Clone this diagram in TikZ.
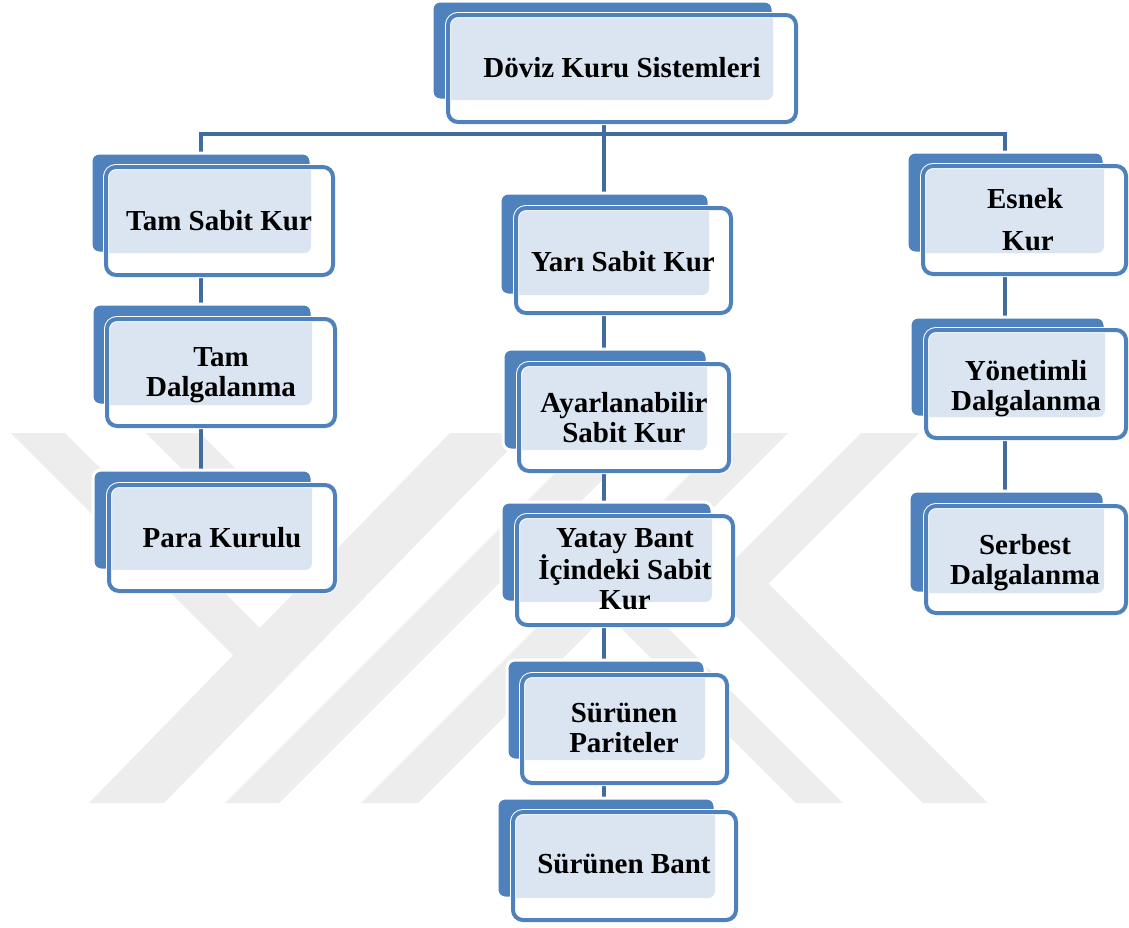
\documentclass[tikz,border=0pt]{standalone}
\usepackage{fontspec}
\setmainfont{Liberation Serif}
\definecolor{boxblue}{RGB}{79,129,189}
\definecolor{connblue}{RGB}{66,108,160}
\definecolor{patcol}{RGB}{219,229,241}
\definecolor{wmgray}{RGB}{237,237,237}
\pgfdeclarelayer{bg}
\pgfsetlayers{bg,main}
\tikzset{
  backbox/.style={rectangle, rounded corners=8pt, fill=boxblue, draw=white, line width=3pt, outer sep=0pt, inner sep=0pt},
  frontbox/.style={rectangle, rounded corners=10pt, fill=white, draw=white, double=boxblue, double distance=4pt, line width=1pt, outer sep=0pt, inner sep=0pt},
  lbl/.style={font=\bfseries\fontsize{29}{30}\selectfont, inner sep=0pt, anchor=base, text=black},
  conn/.style={draw=connblue, line width=4pt},
  wm/.style={fill=wmgray}
}
\newcommand\DBox[9]{%
  \node[backbox, minimum width={(#4-#2)*1pt}, minimum height={(#5-#3)*1pt}] (b#1) at ({(#2+#4)/2},{(#3+#5)/2}) {};
  \node[frontbox, minimum width={(#8-#6)*1pt}, minimum height={(#9-#7)*1pt},
    path picture={\fill[patcol, rounded corners=7pt] (b#1.north west) rectangle (b#1.south east);}] (f#1) at ({(#6+#8)/2},{(#7+#9)/2}) {};
}
\newcommand\ML[1]{\parbox[t]{300pt}{\centering #1}}
\begin{document}
\begin{tikzpicture}[x=1pt,y=-1pt]
\useasboundingbox (0,0) rectangle (1129,927);
% boxes
\DBox{Top}{432}{1}{773}{100}{448}{15}{796}{122}
\DBox{TSK}{91}{153}{311}{253}{106}{167}{333}{275}
\DBox{TD}{92}{304}{312}{405}{107}{319}{335}{426}
\DBox{PK}{93}{470}{312}{570}{109}{485}{335}{591}
\DBox{Yari}{500}{193}{709}{295}{516}{208}{731}{313}
\DBox{Ayar}{503}{349}{707}{450}{519}{364}{729}{471}
\DBox{Yatay}{501}{502}{712}{602}{517}{516}{733}{625}
\DBox{SP}{507}{660}{705}{760}{522}{675}{727}{783}
\DBox{SB}{497}{798}{715}{898}{513}{812}{736}{920}
\DBox{Esnek}{907}{152}{1104}{253}{923}{166}{1126}{274}
\DBox{Yon}{910}{317}{1105}{417}{926}{330}{1126}{438}
\DBox{Serb}{909}{491}{1104}{593}{926}{506}{1126}{613}
% texts
\node[lbl] (tTop) at (622,77) {Döviz Kuru Sistemleri};
\node[lbl] (tTSK) at (219,230) {Tam Sabit Kur};
\node[lbl] (tTD) at (221,366) {\ML{Tam\\Dalgalanma}};
\node[lbl] (tPK) at (222,547) {Para Kurulu};
\node[lbl] (tYari) at (623,271) {Yarı Sabit Kur};
\node[lbl] (tAyar) at (624,412) {\ML{Ayarlanabilir\\Sabit Kur}};
\node[lbl] (tYatay) at (625,547) {\ML{Yatay Bant\\İçindeki Sabit\\Kur}};
\node[lbl] (tSP) at (624,722) {\ML{Sürünen\\Pariteler}};
\node[lbl] (tSB) at (624,873) {Sürünen Bant};
\node[lbl] (tEsnek) at (1025,208) {\ML{Esnek\\[12pt]\hspace*{6pt}Kur}};
\node[lbl] (tYon) at (1026,380) {\ML{Yönetimli\\Dalgalanma}};
\node[lbl] (tSerb) at (1025,554) {\ML{Serbest\\Dalgalanma}};
\coordinate (colL) at (201,0);
\coordinate (colC) at (604,0);
\coordinate (colR) at (1005,0);
\coordinate (hub) at (604,134);
\begin{pgfonlayer}{bg}
\fill[white] (0,0) rectangle (1129,927);
% watermark
\fill[wm] (89,803) -- (164,803) -- (525,433) -- (450,433) -- cycle;
\fill[wm] (225,803) -- (279,803) -- (649,433) -- (595,433) -- cycle;
\fill[wm] (361,803) -- (418,803) -- (788,433) -- (731,433) -- cycle;
\fill[wm] (11,433) -- (65,433) -- (281,649) -- (254,676) -- cycle;
\fill[wm] (146,433) -- (200,433) -- (348.5,581.5) -- (321.5,608.5) -- cycle;
\fill[wm] (861,433) -- (919,433) -- (768.5,583.5) -- (988,803) -- (923,803) -- (707,587) -- cycle;
\fill[wm] (593,600) -- (616,576) -- (843,803) -- (796,803) -- cycle;
% connectors
\draw[conn] (fTop.south -| colC) -- (bYari.north -| colC);
\draw[conn] (bTSK.north -| colL) |- (hub) -| (bEsnek.north -| colR);
\draw[conn] (fTSK.south -| colL) -- (bTD.north -| colL);
\draw[conn] (fTD.south -| colL) -- (bPK.north -| colL);
\draw[conn] (fYari.south -| colC) -- (bAyar.north -| colC);
\draw[conn] (fAyar.south -| colC) -- (bYatay.north -| colC);
\draw[conn] (fYatay.south -| colC) -- (bSP.north -| colC);
\draw[conn] (fSP.south -| colC) -- (bSB.north -| colC);
\draw[conn] (fEsnek.south -| colR) -- (bYon.north -| colR);
\draw[conn] (fYon.south -| colR) -- (bSerb.north -| colR);
\end{pgfonlayer}
\end{tikzpicture}
\end{document}
